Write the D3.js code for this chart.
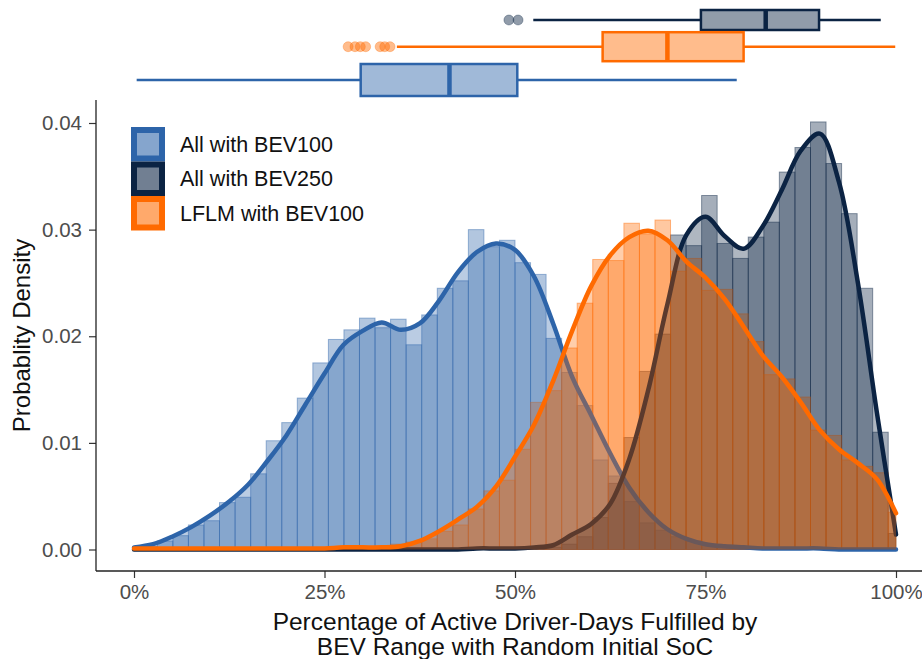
<!DOCTYPE html>
<html>
<head>
<meta charset="utf-8">
<script src="https://cdn.jsdelivr.net/npm/d3@7"></script>
<style>
  body { margin: 0; background: #fff; }
  text { font-family: "Liberation Sans", Arial, sans-serif; }
</style>
</head>
<body>
<div id="chart"></div>
<script>
const seriesNames = ["All with BEV100", "All with BEV250", "LFLM with BEV100"];
const seriesColors = ["#2D64A9", "#0B2343", "#FF6A00"];

// histogram bins (percent), 50 bins centred on 0 ... 100
const binCenters = [0, 2.04, 4.08, 6.12, 8.16, 10.20, 12.24, 14.29, 16.33, 18.37,
  20.41, 22.45, 24.49, 26.53, 28.57, 30.61, 32.65, 34.69, 36.73, 38.78,
  40.82, 42.86, 44.90, 46.94, 48.98, 51.02, 53.06, 55.10, 57.14, 59.18,
  61.22, 63.27, 65.31, 67.35, 69.39, 71.43, 73.47, 75.51, 77.55, 79.59,
  81.63, 83.67, 85.71, 87.76, 89.80, 91.84, 93.88, 95.92, 97.96, 100];
const binHalf = 1.02;

const histBEV100 = [0.0001, 0.0003, 0.0008, 0.0013, 0.0023, 0.0027, 0.0044, 0.0049, 0.0071, 0.0102,
  0.0119, 0.0142, 0.0175, 0.0197, 0.0206, 0.0217, 0.0208, 0.0216, 0.0192, 0.0220,
  0.0245, 0.0252, 0.0300, 0.0284, 0.0290, 0.0269, 0.0258, 0.0198, 0.0166, 0.0135,
  0.0084, 0.0069, 0.0045, 0.0025, 0.0018, 0.0012, 0.0008, 0.0005, 0.0004, 0.0003,
  0.0002, 0.0001, 0.0001, 0.0001, 0.0001, 0.0001, 0.0001, 0.0001, 0.0001, 0.0001];

const histBEV250 = [0, 0, 0, 0, 0, 0, 0, 0, 0, 0,
  0, 0, 0, 0, 0, 0, 0, 0, 0, 0,
  0, 0, 0, 0.0001, 0.0001, 0.0001, 0.0001, 0.0002, 0.0005, 0.0012,
  0.0030, 0.0062, 0.0105, 0.0167, 0.0202, 0.0295, 0.0285, 0.0332, 0.0287, 0.0273,
  0.0293, 0.0307, 0.0354, 0.0377, 0.0401, 0.0362, 0.0315, 0.0245, 0.0110, 0.0015];

const histLFLM = [0.0001, 0.0001, 0.0001, 0.0001, 0.0001, 0.0001, 0.0001, 0.0001, 0.0001, 0.0001,
  0.0001, 0.0001, 0.0001, 0.0001, 0.0001, 0.0002, 0.0003, 0.0005, 0.0007, 0.0010,
  0.0017, 0.0023, 0.0038, 0.0055, 0.0065, 0.0094, 0.0138, 0.0149, 0.0189, 0.0231,
  0.0272, 0.0271, 0.0306, 0.0296, 0.0309, 0.0261, 0.0273, 0.0243, 0.0244, 0.0221,
  0.0195, 0.0164, 0.0160, 0.0143, 0.0112, 0.0107, 0.0084, 0.0078, 0.0072, 0.0035];

// density curves, read every 2.5 %
const kdeGrid = [0, 2.5, 5, 7.5, 10, 12.5, 15, 17.5, 20, 22.5, 25, 27.5, 30, 32.5, 35, 37.5, 40,
  42.5, 45, 47.5, 50, 52.5, 55, 57.5, 60, 62.5, 65, 67.5, 70, 72.5, 75, 77.5, 80,
  82.5, 85, 87.5, 90, 92.5, 95, 97.5, 100];

const kdeBEV100 = [0.0002, 0.0005, 0.0012, 0.0021, 0.0032, 0.0045, 0.0061, 0.0083, 0.0107, 0.0136,
  0.0165, 0.0192, 0.0205, 0.0213, 0.0206, 0.0212, 0.0233, 0.0260, 0.0279, 0.0287,
  0.0281, 0.0256, 0.0212, 0.0162, 0.0126, 0.0090, 0.0058, 0.0035, 0.0019, 0.0010,
  0.0005, 0.0003, 0.0002, 0.0001, 0.0001, 0.0001, 0.0001, 0, 0, 0, 0];

const kdeBEV250 = [0, 0, 0, 0, 0, 0, 0, 0, 0, 0,
  0, 0, 0, 0, 0, 0, 0, 0, 0.0001, 0.0001,
  0.0001, 0.0002, 0.0004, 0.0014, 0.0024, 0.0043, 0.0085, 0.0150, 0.0230, 0.0295,
  0.0312, 0.0294, 0.0282, 0.0303, 0.0337, 0.0374, 0.0390, 0.0345, 0.0250, 0.0128,
  0.0014];

const kdeLFLM = [0.0001, 0.0001, 0.0001, 0.0001, 0.0001, 0.0001, 0.0001, 0.0001, 0.0001, 0.0001,
  0.0001, 0.0002, 0.0002, 0.0002, 0.0003, 0.0008, 0.0017, 0.0028, 0.0040, 0.0059,
  0.0087, 0.0117, 0.0158, 0.0205, 0.0247, 0.0276, 0.0293, 0.0299, 0.0290, 0.0270,
  0.0255, 0.0235, 0.0209, 0.0182, 0.0162, 0.0138, 0.0112, 0.0094, 0.0081, 0.0066,
  0.0034];

// boxplot stats (percent)
const boxLow = [0.35, 52.4, 34.5];
const boxQ1 = [29.75, 74.4, 61.5];
const boxMedian = [41.4, 82.9, 70.0];
const boxQ3 = [50.3, 89.9, 80.0];
const boxHigh = [79.1, 98.0, 99.9];
const outliersBEV100 = [];
const outliersBEV250 = [49.2, 50.4];
const outliersLFLM = [28.1, 29.0, 29.7, 30.4, 32.3, 32.9, 33.6];

const xTicks = [0, 25, 50, 75, 100];
const yTicks = [0, 0.01, 0.02, 0.03, 0.04];

const hists = [histBEV100, histBEV250, histLFLM];
const kdes = [kdeBEV100, kdeBEV250, kdeLFLM];
const outliers = [outliersBEV100, outliersBEV250, outliersLFLM];

const width = 922, height = 659;
const panel = { left: 96, right: 934, top: 100, bottom: 571 };

const svg = d3.select("#chart").append("svg")
  .attr("width", width)
  .attr("height", height);

const x = d3.scaleLinear().domain([0, 100]).range([134, 896]);
const y = d3.scaleLinear().domain([0, 0.04]).range([549.5, 123]);

// histograms
hists.forEach((h, i) => {
  svg.append("g")
    .selectAll("rect")
    .data(h.map((v, k) => ({ c: binCenters[k], v })))
    .enter()
    .append("rect")
    .attr("x", d => x(Math.max(0, d.c - binHalf)))
    .attr("width", d => x(Math.min(100, d.c + binHalf)) - x(Math.max(0, d.c - binHalf)))
    .attr("y", d => y(d.v))
    .attr("height", d => y(0) - y(d.v))
    .attr("fill", seriesColors[i])
    .attr("fill-opacity", 0.37)
    .attr("stroke", seriesColors[i])
    .attr("stroke-opacity", 0.45)
    .attr("stroke-width", 1);
});

// density area + line
kdes.forEach((k, i) => {
  const pts = k.map((v, j) => [kdeGrid[j], v]);
  const area = d3.area()
    .x(d => x(d[0]))
    .y0(y(0))
    .y1(d => y(Math.max(0, d[1])))
    .curve(d3.curveCatmullRom);
  const line = d3.line()
    .x(d => x(d[0]))
    .y(d => y(Math.max(0, d[1])))
    .curve(d3.curveCatmullRom);

  svg.append("path")
    .attr("d", area(pts))
    .attr("fill", seriesColors[i])
    .attr("fill-opacity", 0.33);

  svg.append("path")
    .attr("d", line(pts))
    .attr("fill", "none")
    .attr("stroke", seriesColors[i])
    .attr("stroke-width", 4.5)
    .attr("stroke-linecap", "round")
    .attr("stroke-linejoin", "round");
});

// axes
const yAxis = svg.append("g")
  .attr("transform", `translate(${panel.left},0)`)
  .call(d3.axisLeft(y).tickValues(yTicks).tickFormat(d3.format(".2f")).tickSize(7).tickPadding(7));
yAxis.select(".domain").remove();

const xAxis = svg.append("g")
  .attr("transform", `translate(0,${panel.bottom})`)
  .call(d3.axisBottom(x).tickValues(xTicks).tickFormat(d => d + "%").tickSize(7).tickPadding(6));
xAxis.select(".domain").remove();

svg.selectAll(".tick line").attr("stroke", "#333").attr("stroke-width", 1.2);
svg.selectAll(".tick text")
  .attr("fill", "#4D4D4D")
  .style("font-size", "20.5px")
  .style("font-family", "'Liberation Sans', Arial, sans-serif");

svg.append("line")
  .attr("x1", panel.left).attr("x2", panel.left)
  .attr("y1", panel.top).attr("y2", panel.bottom)
  .attr("stroke", "#222").attr("stroke-width", 1.3);
svg.append("line")
  .attr("x1", panel.left).attr("x2", panel.right)
  .attr("y1", panel.bottom).attr("y2", panel.bottom)
  .attr("stroke", "#222").attr("stroke-width", 1.3);

// axis titles
svg.append("text")
  .attr("transform", `translate(30,${(panel.top + panel.bottom) / 2}) rotate(-90)`)
  .attr("text-anchor", "middle")
  .style("font-size", "24px")
  .attr("fill", "#111")
  .text("Probablity Density");

svg.append("text")
  .attr("x", 515).attr("y", 630)
  .attr("text-anchor", "middle")
  .style("font-size", "24.5px")
  .attr("fill", "#111")
  .text("Percentage of Active Driver-Days Fulfilled by");
svg.append("text")
  .attr("x", 515).attr("y", 655)
  .attr("text-anchor", "middle")
  .style("font-size", "24.5px")
  .attr("fill", "#111")
  .text("BEV Range with Random Initial SoC");

// legend
const legend = svg.append("g").attr("transform", "translate(134,130)");
seriesNames.forEach((name, i) => {
  const row = legend.append("g").attr("transform", `translate(0,${i * 34.5})`);
  row.append("rect")
    .attr("width", 28).attr("height", 28.5)
    .attr("fill", "#fff");
  row.append("rect")
    .attr("width", 28).attr("height", 28.5)
    .attr("fill", seriesColors[i])
    .attr("fill-opacity", 0.58)
    .attr("stroke", seriesColors[i])
    .attr("stroke-width", 6);
  row.append("text")
    .attr("x", 46).attr("y", 21.5)
    .style("font-size", "21.5px")
    .attr("fill", "#111")
    .text(name);
});

// boxplots above the panel
const boxCenters = [80, 20, 46.7];
const boxHeights = [32, 20, 29];
seriesNames.forEach((name, i) => {
  const g = svg.append("g");
  const c = boxCenters[i], hh = boxHeights[i] / 2;
  const col = seriesColors[i];
  g.append("line")
    .attr("x1", x(boxLow[i])).attr("x2", x(boxQ1[i]))
    .attr("y1", c).attr("y2", c)
    .attr("stroke", col).attr("stroke-width", 2.5);
  g.append("line")
    .attr("x1", x(boxQ3[i])).attr("x2", x(boxHigh[i]))
    .attr("y1", c).attr("y2", c)
    .attr("stroke", col).attr("stroke-width", 2.5);
  g.append("rect")
    .attr("x", x(boxQ1[i])).attr("width", x(boxQ3[i]) - x(boxQ1[i]))
    .attr("y", c - hh).attr("height", 2 * hh)
    .attr("fill", col).attr("fill-opacity", 0.45)
    .attr("stroke", col).attr("stroke-width", 2.5);
  g.append("line")
    .attr("x1", x(boxMedian[i])).attr("x2", x(boxMedian[i]))
    .attr("y1", c - hh).attr("y2", c + hh)
    .attr("stroke", col).attr("stroke-width", 4.5);
  g.selectAll("circle")
    .data(outliers[i])
    .enter()
    .append("circle")
    .attr("cx", d => x(d)).attr("cy", c).attr("r", 5)
    .attr("fill", col).attr("fill-opacity", 0.45)
    .attr("stroke", col).attr("stroke-opacity", 0.3);
});
</script>
</body>
</html>
